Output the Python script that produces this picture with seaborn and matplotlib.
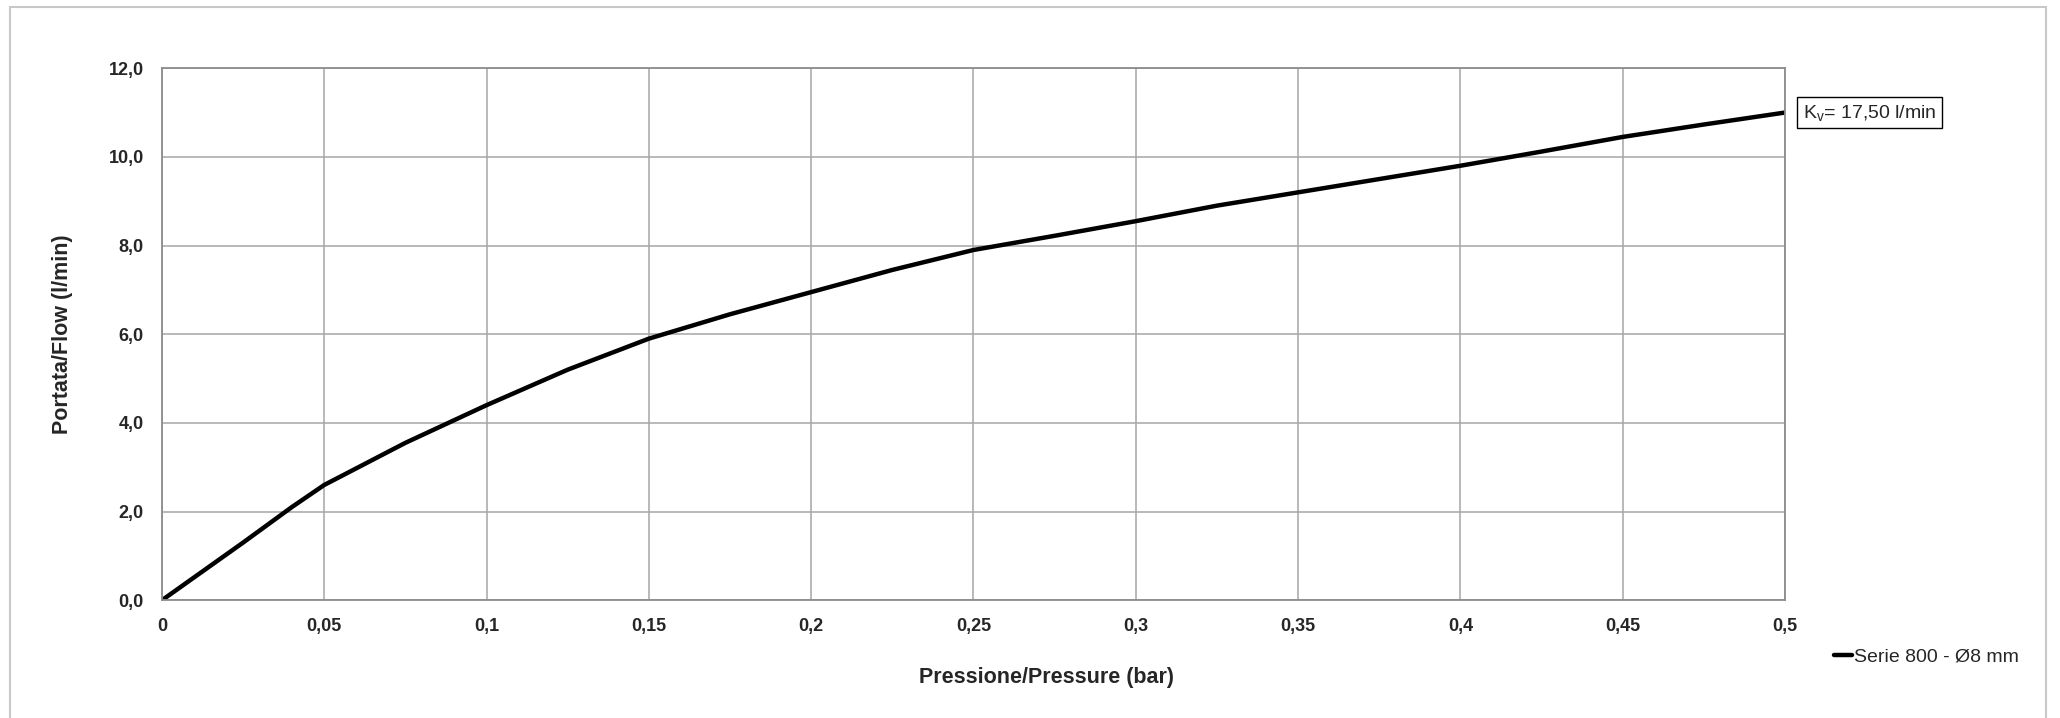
import numpy as np
import pandas as pd
import matplotlib
matplotlib.use('Agg')
import matplotlib.pyplot as plt
from matplotlib.patches import Rectangle
import seaborn as sns

# values
pressure = [0, 0.025, 0.04, 0.05, 0.075, 0.1, 0.125, 0.15, 0.175, 0.2, 0.225, 0.25,
            0.275, 0.3, 0.325, 0.35, 0.375, 0.4, 0.425, 0.45, 0.475, 0.5]
flow = [0.0, 1.3, 2.1, 2.6, 3.55, 4.4, 5.2, 5.9, 6.45, 6.95, 7.45, 7.9,
        8.22, 8.55, 8.9, 9.2, 9.5, 9.8, 10.12, 10.45, 10.73, 11.0]

x_ticks = [0, 0.05, 0.1, 0.15, 0.2, 0.25, 0.3, 0.35, 0.4, 0.45, 0.5]
x_tick_labels = ['0', '0,05', '0,1', '0,15', '0,2', '0,25', '0,3', '0,35', '0,4', '0,45', '0,5']
y_ticks = [0, 2, 4, 6, 8, 10, 12]
y_tick_labels = ['0,0', '2,0', '4,0', '6,0', '8,0', '10,0', '12,0']

series_name = 'Serie 800 - Ø8 mm'
kv_text = r'$\mathregular{K_v}$= 17,50 l/min'

df = pd.DataFrame({'Pressione': pressure, 'Portata': flow})

sns.set_style('white')
plt.rcParams['font.family'] = ['Liberation Sans', 'DejaVu Sans']

fig = plt.figure(figsize=(20.6, 7.18), dpi=100)
ax = fig.add_axes([0.0786, 0.164, 0.7879, 0.741])

sns.lineplot(data=df, x='Pressione', y='Portata', color='black', linewidth=3.2,
             label=series_name, ax=ax, legend=False)

ax.set_xlim(0, 0.5)
ax.set_ylim(0, 12)
ax.set_xticks(x_ticks)
ax.set_xticklabels(x_tick_labels, fontsize=13, fontweight='bold')
ax.set_yticks(y_ticks)
ax.set_yticklabels(y_tick_labels, fontsize=13, fontweight='bold')
ax.grid(True, color='#a6a6a6', linewidth=1.1)
for s in ax.spines.values():
    s.set_color('#8c8c8c')
    s.set_linewidth(1.3)
ax.tick_params(axis='both', direction='out', length=5, width=1, color='#8c8c8c', pad=8)

ax.set_xlabel('Pressione/Pressure (bar)', fontsize=15.5, fontweight='bold', labelpad=22)
ax.xaxis.set_label_coords(0.545, -0.125)
ax.set_ylabel('Portata/Flow (l/min)', fontsize=15.5, fontweight='bold')
ax.yaxis.set_label_coords(-0.055, 0.5)

# Kv label box at the end of the curve
ax.annotate(kv_text, xy=(pressure[-1], flow[-1]), xytext=(13, 0), textcoords='offset points',
            fontsize=14, va='center', ha='left', annotation_clip=False,
            bbox=dict(boxstyle='square,pad=0.3', facecolor='white', edgecolor='black', linewidth=1))

handles, labels = ax.get_legend_handles_labels()
fig.legend(handles, labels, loc='center left', bbox_to_anchor=(0.882, 0.085), frameon=False,
           fontsize=14, handlelength=0.9, handletextpad=0.1)

# light outer frame like the original chart area
fig.patches.append(Rectangle((0.005, -0.05), 0.988, 1.04, transform=fig.transFigure,
                             fill=False, edgecolor='#c8c8c8', linewidth=1.5))

fig.savefig('out.png', dpi=100)
